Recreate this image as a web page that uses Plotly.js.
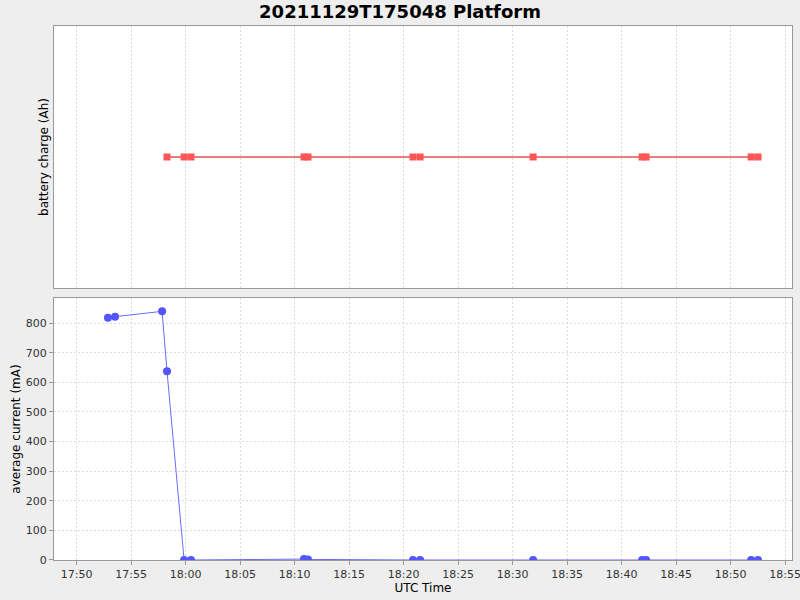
<!DOCTYPE html>
<html>
<head>
<meta charset="utf-8">
<script src="https://cdn.plot.ly/plotly-3.0.1.min.js"></script>
<style>html,body{margin:0;padding:0;background:#eeeeee;}</style>
</head>
<body>
<div id="chart" style="width:800px;height:600px;"></div>
<script>
const currentTimes = [
  "2021-11-29 17:52:53", "2021-11-29 17:53:32", "2021-11-29 17:57:51", "2021-11-29 17:58:18",
  "2021-11-29 17:59:52", "2021-11-29 18:00:30", "2021-11-29 18:10:52", "2021-11-29 18:11:14",
  "2021-11-29 18:20:52", "2021-11-29 18:21:31", "2021-11-29 18:31:53", "2021-11-29 18:41:53",
  "2021-11-29 18:42:15", "2021-11-29 18:51:53", "2021-11-29 18:52:31"
];
const currentValues = [818, 822, 840, 638, 0, 0, 3, 2, 0, 0, 0, 0, 0, 0, 0];

const chargeTimes = [
  "2021-11-29 17:58:18", "2021-11-29 17:59:52", "2021-11-29 18:00:30", "2021-11-29 18:10:52",
  "2021-11-29 18:11:14", "2021-11-29 18:20:52", "2021-11-29 18:21:31", "2021-11-29 18:31:53",
  "2021-11-29 18:41:53", "2021-11-29 18:42:15", "2021-11-29 18:51:53", "2021-11-29 18:52:31"
];
const chargeValues = [0, 0, 0, 0, 0, 0, 0, 0, 0, 0, 0, 0];

const font = "DejaVu Sans, sans-serif";
const gridColor = "#dadada";
const gridDash = "2px,2px";

const traces = [
  {
    x: chargeTimes, y: chargeValues, type: "scatter", mode: "lines+markers",
    xaxis: "x", yaxis: "y",
    line: {color: "#e25050", width: 1.3},
    marker: {symbol: "square", size: 7, color: "#ff5555"},
    hoverinfo: "none"
  },
  {
    x: currentTimes, y: currentValues, type: "scatter", mode: "lines+markers",
    xaxis: "x2", yaxis: "y2",
    line: {color: "#6a6aff", width: 1},
    marker: {symbol: "circle", size: 8, color: "#5555ff"},
    hoverinfo: "none"
  }
];

const xRange = ["2021-11-29 17:47:56", "2021-11-29 18:55:38"];
const commonX = {
  type: "date", range: xRange, dtick: 300000, tick0: "2021-11-29 17:50:00",
  tickformat: "%H:%M", showgrid: true, gridcolor: gridColor, griddash: gridDash, gridwidth: 1,
  showline: true, linecolor: "#999999", linewidth: 1, mirror: true, zeroline: false,
  ticks: "outside", ticklen: 4, tickcolor: "#999999",
  ticklabeloverflow: "allow",
  tickfont: {family: font, size: 11, color: "#333333"}
};

const layout = {
  width: 800, height: 600,
  paper_bgcolor: "#eeeeee", plot_bgcolor: "#ffffff",
  margin: {l: 54, r: 8, t: 26, b: 40},
  showlegend: false,
  title: {text: "<b>20211129T175048 Platform</b>", x: 0.5, xanchor: "center", y: 0.98, yanchor: "middle",
          font: {family: font, size: 18, color: "#000000"}},
  xaxis: Object.assign({}, commonX, {anchor: "y", showticklabels: false, ticks: ""}),
  xaxis2: Object.assign({}, commonX, {anchor: "y2",
          title: {text: "UTC Time", font: {family: font, size: 12, color: "#000000"}, standoff: 3}}),
  yaxis: {
    domain: [0.5094, 1], range: [-1, 1], showticklabels: false, showgrid: false, zeroline: false,
    showline: true, linecolor: "#999999", mirror: true, ticks: "",
    title: {text: "battery charge (Ah)", font: {family: font, size: 12, color: "#000000"}, standoff: 1}
  },
  yaxis2: {
    domain: [0, 0.4906], range: [0, 885], dtick: 100, tick0: 0,
    showgrid: true, gridcolor: gridColor, griddash: gridDash, zeroline: false,
    showline: true, linecolor: "#999999", mirror: true,
    ticks: "outside", ticklen: 4, tickcolor: "#999999",
    tickfont: {family: font, size: 11, color: "#333333"},
    title: {text: "average current (mA)", font: {family: font, size: 12, color: "#000000"}, standoff: 2}
  }
};

Plotly.newPlot("chart", traces, layout, {displayModeBar: false, staticPlot: true});
</script>
</body>
</html>
